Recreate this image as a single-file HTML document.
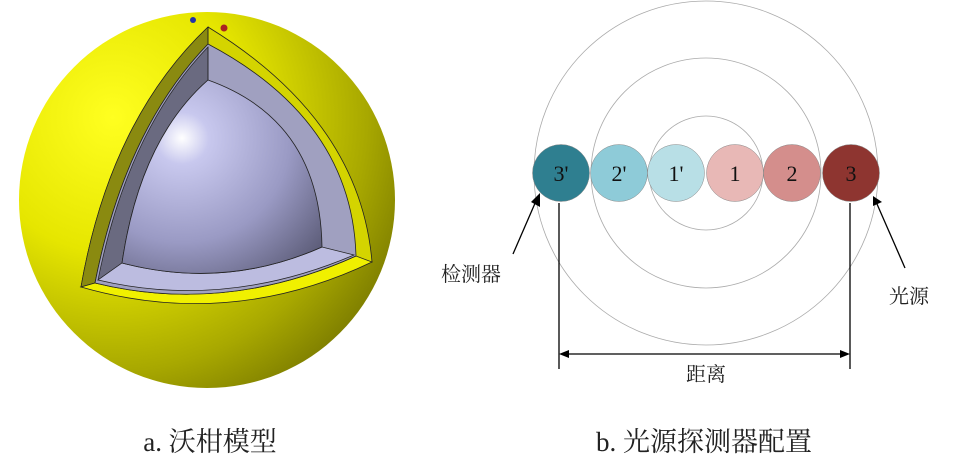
<!DOCTYPE html>
<html><head><meta charset="utf-8"><style>
html,body{margin:0;padding:0;background:#fff;}
body{width:970px;height:464px;overflow:hidden;position:relative;}
</style></head><body>
<svg width="970" height="464" viewBox="0 0 970 464" xmlns="http://www.w3.org/2000/svg" style="position:absolute;left:0;top:0">
<defs>
<radialGradient id="ys" cx="0.25" cy="0.28" r="0.9">
<stop offset="0" stop-color="#ffff20"/><stop offset="0.4" stop-color="#e6e600"/><stop offset="0.75" stop-color="#a8a800"/><stop offset="1" stop-color="#707000"/>
</radialGradient>
<radialGradient id="ls" cx="0.3" cy="0.3" r="0.9">
<stop offset="0" stop-color="#ffffff"/><stop offset="0.15" stop-color="#c8c8ee"/><stop offset="0.6" stop-color="#9a9ac4"/><stop offset="1" stop-color="#5c5c78"/>
</radialGradient>
</defs>
<circle cx="207" cy="200" r="188" fill="url(#ys)"/>
<path d="M208,27 Q110,120 81,287 L372,262 Q360,120 208,27 Z" fill="#d4d400" stroke="#222" stroke-width="0.8"/>
<path d="M208,27 Q110,120 81,287 L95,283 Q125,130 208,44 Z" fill="#8a8a10" stroke="#222" stroke-width="0.7"/>
<path d="M81,287 Q230,330 372,262 L356,256 Q225,315 95,283 Z" fill="#f0f000" stroke="#222" stroke-width="0.8"/>
<path d="M208,44 Q125,130 95,283 Q225,315 356,256 Q352,120 208,44 Z" fill="#a0a0c0" stroke="#222" stroke-width="0.8"/>
<path d="M208,47 Q128,130 98,280 L122,263 Q140,140 208,80 Z" fill="#6a6a80" stroke="#222" stroke-width="0.7"/>
<path d="M98,280 Q225,310 354,255 L322,247 Q225,290 122,263 Z" fill="#bcbce0" stroke="#222" stroke-width="0.7"/>
<line x1="208" y1="47" x2="208" y2="80" stroke="#222" stroke-width="0.8"/>
<path d="M208,80 Q140,140 122,263 Q225,290 322,247 Q320,120 208,80 Z" fill="url(#ls)" stroke="#222" stroke-width="0.8"/>
<line x1="208" y1="27" x2="208" y2="44" stroke="#222" stroke-width="0.8"/>
<circle cx="193" cy="20" r="3" fill="#2233aa"/>
<circle cx="224" cy="28" r="3.5" fill="#aa2222"/>

<g fill="none" stroke="#aaa" stroke-width="0.8">
<circle cx="706" cy="173" r="172"/>
<circle cx="706" cy="173" r="115"/>
<circle cx="706" cy="173" r="57"/>
</g>
<g stroke="#888" stroke-width="0.5">
<circle cx="561" cy="173" r="28.5" fill="#2f7f90"/>
<circle cx="619" cy="173" r="28.5" fill="#8ecbd8"/>
<circle cx="676" cy="173" r="28.5" fill="#b8dfe6"/>
<circle cx="735" cy="173" r="28.5" fill="#e8b8b6"/>
<circle cx="792" cy="173" r="28.5" fill="#d48e8c"/>
<circle cx="851" cy="173" r="28.5" fill="#8e3530"/>
</g>
<g font-family="Liberation Serif, serif" font-size="22" fill="#111" text-anchor="middle">
<text x="561" y="181">3'</text><text x="619" y="181">2'</text><text x="676" y="181">1'</text>
<text x="735" y="181">1</text><text x="792" y="181">2</text><text x="851" y="181">3</text>
</g>
<g stroke="#000" stroke-width="1.3">
<line x1="559" y1="203" x2="559" y2="369"/>
<line x1="850" y1="203" x2="850" y2="369"/>
<line x1="566" y1="354" x2="843" y2="354"/>
<line x1="513" y1="254" x2="536" y2="201"/>
<line x1="905" y1="268" x2="877" y2="204"/>
</g>
<polygon points="559,354 569,350 569,358" fill="#000"/>
<polygon points="850,354 840,350 840,358" fill="#000"/>
<polygon points="540,193 540,207 531,202" fill="#000"/>
<polygon points="873,196 882,202 873,206" fill="#000"/>
<g font-family="Liberation Serif, 'Noto Serif CJK SC', serif" font-size="20" fill="#222">
<text x="441" y="281">检测器</text>
<text x="889" y="303">光源</text>
<text x="706" y="381" text-anchor="middle">距离</text>
</g>
<g font-family="Liberation Serif, 'Noto Serif CJK SC', serif" font-size="27" fill="#222" text-anchor="middle">
<text x="210" y="451">a. 沃柑模型</text>
<text x="704" y="451">b. 光源探测器配置</text>
</g>
</svg>
</body></html>
